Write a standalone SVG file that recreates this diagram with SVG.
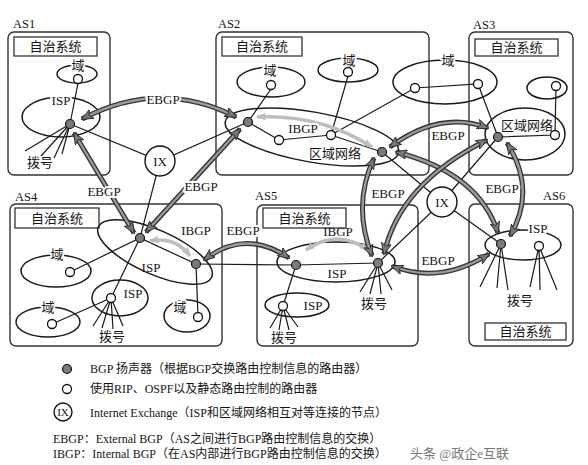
<svg xmlns="http://www.w3.org/2000/svg" width="588" height="465" viewBox="0 0 588 465">
<style>
text{font-family:"Liberation Serif","Noto Sans CJK SC",serif;fill:#151515}
.as{fill:none;stroke:#333;stroke-width:1.4}
.tb{fill:#fff;stroke:#333;stroke-width:1.3}
.tt{font-size:13px;text-anchor:middle}
.al{font-size:12.5px}
.el{fill:none;stroke:#1a1a1a;stroke-width:1.5}
.ln{stroke:#1a1a1a;stroke-width:1.2;fill:none}
.lb{font-size:13px;text-anchor:middle}
.h{stroke:#fff;stroke-width:4;paint-order:stroke;stroke-linejoin:round}
.sp{fill:#7a7a7a;stroke:#111;stroke-width:1.2}
.rt{fill:#fff;stroke:#111;stroke-width:1.3}
.ix{fill:#fff;stroke:#111;stroke-width:1.4}
.eo{fill:none;stroke:#333;stroke-width:5}
.ei{fill:none;stroke:#9a9a9a;stroke-width:2.4}
.ib{fill:none;stroke:#bdbdbd;stroke-width:3.5}
.lg{font-size:12px}
</style>
<defs>
<marker id="ah" viewBox="0 0 12 10" refX="11" refY="5" markerWidth="12" markerHeight="10" markerUnits="userSpaceOnUse" orient="auto-start-reverse"><path d="M0,0 L12,5 L0,10 L3,5 z" fill="#777" stroke="#222" stroke-width="0.8"/></marker>
<marker id="ahl" viewBox="0 0 10 8" refX="9" refY="4" markerWidth="10" markerHeight="8" markerUnits="userSpaceOnUse" orient="auto-start-reverse"><path d="M0,0 L10,4 L0,8 L2,4 z" fill="#bdbdbd"/></marker>
</defs>
<rect width="588" height="465" fill="#fff"/>

<g id="AS1">
<text class="al" x="13" y="28">AS1</text>
<rect class="as" x="8" y="32" width="102" height="143" rx="6"/>
<rect class="tb" x="14" y="37" width="83" height="19"/>
<text class="tt" x="55.5" y="51">自治系统</text>
<ellipse class="el" cx="77" cy="74" rx="20" ry="9"/>
<text class="lb h" x="78" y="70">域</text>
<ellipse class="el" cx="61" cy="117" rx="39" ry="20"/>
<text class="lb h" x="61" y="105">ISP</text>
<text class="lb" x="40" y="167">拨号</text>
</g>

<g id="AS2">
<text class="al" x="218" y="28">AS2</text>
<rect class="as" x="216" y="32" width="213" height="143" rx="6"/>
<rect class="tb" x="222" y="37" width="80" height="19"/>
<text class="tt" x="262" y="51">自治系统</text>
<ellipse class="el" cx="271" cy="82" rx="34" ry="15"/>
<text class="lb h" x="270" y="75">域</text>
<ellipse class="el" cx="348" cy="70" rx="30" ry="12"/>
<text class="lb h" x="349" y="65">域</text>
<ellipse class="el" cx="312" cy="137" rx="88" ry="25" transform="rotate(10 312 137)"/>
<text class="lb" x="335" y="158">区域网络</text>
</g>

<g id="AS3">
<text class="al" x="473" y="29">AS3</text>
<rect class="as" x="469" y="32" width="104" height="143" rx="6"/>
<rect class="tb" x="475" y="39" width="83" height="17"/>
<text class="tt" x="516.5" y="52">自治系统</text>
<ellipse class="el" cx="547" cy="88" rx="20" ry="11"/>
<ellipse class="el" cx="525" cy="134" rx="40" ry="26"/>
<text class="lb" x="527" y="130">区域网络</text>
</g>

<g id="shared-domain">
<ellipse class="el" cx="445" cy="82" rx="52" ry="22"/>
<text class="lb h" x="448" y="65">域</text>
</g>

<g id="AS4">
<text class="al" x="15" y="201">AS4</text>
<rect class="as" x="10" y="204" width="212" height="142" rx="6"/>
<rect class="tb" x="15" y="208" width="84" height="20"/>
<text class="tt" x="57" y="223">自治系统</text>
<ellipse class="el" cx="155" cy="252" rx="62" ry="22" transform="rotate(24 155 252)"/>
<text class="lb" x="151" y="272">ISP</text>
<text class="lb" x="196" y="235">IBGP</text>
<ellipse class="el" cx="56" cy="271" rx="35" ry="16"/>
<text class="lb h" x="57" y="259">域</text>
<ellipse class="el" cx="120" cy="298" rx="28" ry="18"/>
<text class="lb" x="133" y="298">ISP</text>
<ellipse class="el" cx="48" cy="322" rx="32" ry="15"/>
<text class="lb h" x="48" y="312">域</text>
<ellipse class="el" cx="187" cy="316" rx="23" ry="16"/>
<text class="lb h" x="180" y="312">域</text>
<text class="lb" x="112" y="341">拨号</text>
</g>

<g id="AS5">
<text class="al" x="255" y="200">AS5</text>
<rect class="as" x="257" y="205" width="161" height="141" rx="6"/>
<rect class="tb" x="263" y="208" width="83" height="20"/>
<text class="tt" x="304.5" y="223">自治系统</text>
<ellipse class="el" cx="336" cy="262" rx="59" ry="20"/>
<text class="lb" x="338" y="236">IBGP</text>
<text class="lb" x="337" y="278">ISP</text>
<ellipse class="el" cx="297" cy="305" rx="32" ry="12"/>
<text class="lb" x="313" y="310">ISP</text>
<text class="lb" x="284" y="342">拨号</text>
<text class="lb" x="374" y="308">拨号</text>
</g>

<g id="AS6">
<text class="al" x="543" y="200">AS6</text>
<rect class="as" x="469" y="204" width="104" height="142" rx="6"/>
<rect class="tb" x="485" y="323" width="81" height="17"/>
<text class="tt" x="525.5" y="336">自治系统</text>
<ellipse class="el" cx="523" cy="245" rx="38" ry="15"/>
<text class="lb h" x="538" y="233">ISP</text>
<text class="lb" x="520" y="305">拨号</text>
</g>

<g id="connectors">
<path class="ln" d="M78,83 L70,124 M70,124 L25,151 M70,124 L41,156 M70,124 L54,158 M70,124 L62,154"/>
<path class="ln" d="M70,124 L160,161 L248,122 M160,161 L140,238 L111,298"/>
<path class="ln" d="M271,89 L248,122 L279,140 L331,135 L382,152 M348,76 L331,135 M331,135 L415,88 L478,84 L498,137"/>
<path class="ln" d="M498,137 L555,135 L556,86"/>
<path class="ln" d="M382,152 L442,202 M498,137 L442,202 M378,263 L442,202 M501,244 L442,202"/>
<path class="ln" d="M70,272 L140,238 L196,264 L198,317 M52,324 L111,298 M111,298 L93,326 M111,298 L102,328 M111,298 L113,329 M111,298 L123,326"/>
<path class="ln" d="M196,264 L296,265 L378,263 M296,265 L283,306 M283,306 L270,328 M283,306 L279,330 M283,306 L289,330 M283,306 L298,327"/>
<path class="ln" d="M378,263 L360,292 M378,263 L370,294 M378,263 L381,294 M378,263 L392,290"/>
<path class="ln" d="M501,244 L480,287 M501,244 L497,288 M501,244 L508,290 M539,246 L530,287 M539,246 L540,290 M539,246 L557,290"/>

<g id="ibgp">
<path class="ib" d="M257,117 Q321,114 372,147" marker-start="url(#ahl)" marker-end="url(#ahl)"/>
<path class="ib" d="M150,241 Q175,236 190,256" marker-start="url(#ahl)" marker-end="url(#ahl)"/>
<path class="ib" d="M306,250 Q337,228 368,250" marker-start="url(#ahl)" marker-end="url(#ahl)"/>
</g>

<g id="ebgp">
<path class="eo" d="M82,119 Q160,78 236,117"/>
<path class="ei" d="M82,119 Q160,78 236,117" marker-start="url(#ah)" marker-end="url(#ah)"/>
<path class="eo" d="M74,133 L134,233"/>
<path class="ei" d="M74,133 L134,233" marker-start="url(#ah)" marker-end="url(#ah)"/>
<path class="eo" d="M240,129 L146,232"/>
<path class="ei" d="M240,129 L146,232" marker-start="url(#ah)" marker-end="url(#ah)"/>
<path class="eo" d="M204,260 Q245,228 289,258"/>
<path class="ei" d="M204,260 Q245,228 289,258" marker-start="url(#ah)" marker-end="url(#ah)"/>
<path class="eo" d="M374,158 Q352,205 372,256"/>
<path class="ei" d="M374,158 Q352,205 372,256" marker-start="url(#ah)" marker-end="url(#ah)"/>
<path class="eo" d="M390,147 Q440,110 488,128"/>
<path class="ei" d="M390,147 Q440,110 488,128" marker-start="url(#ah)" marker-end="url(#ah)"/>
<path class="eo" d="M396,152 Q479,173 498,233"/>
<path class="ei" d="M396,152 Q479,173 498,233" marker-start="url(#ah)" marker-end="url(#ah)"/>
<path class="eo" d="M487,140 Q400,183 384,254"/>
<path class="ei" d="M487,140 Q400,183 384,254" marker-start="url(#ah)" marker-end="url(#ah)"/>
<path class="eo" d="M507,143 Q537,190 510,236"/>
<path class="ei" d="M507,143 Q537,190 510,236" marker-start="url(#ah)" marker-end="url(#ah)"/>
<path class="eo" d="M392,266 Q440,285 489,254"/>
<path class="ei" d="M392,266 Q440,285 489,254" marker-start="url(#ah)" marker-end="url(#ah)"/>
</g>

<g id="ebgp-labels">
<text class="lb h" x="163" y="104">EBGP</text>
<text class="lb h" x="104" y="196">EBGP</text>
<text class="lb h" x="201" y="191">EBGP</text>
<text class="lb h" x="243" y="235">EBGP</text>
<text class="lb h" x="388" y="198">EBGP</text>
<text class="lb h" x="448" y="140">EBGP</text>
<text class="lb h" x="502" y="193">EBGP</text>
<text class="lb h" x="438" y="265">EBGP</text>
<text class="lb h" x="303" y="133">IBGP</text>
</g>
</g>

<g id="routers">
<g id="as1-speaker"><circle class="sp" cx="70" cy="124" r="4.5"/></g>
<g id="as1-domain-router"><circle class="rt" cx="78" cy="79" r="4.5"/></g>
<g id="as2-speaker1"><circle class="sp" cx="248" cy="122" r="4.5"/></g>
<g id="as2-speaker2"><circle class="sp" cx="382" cy="152" r="4.5"/></g>
<g id="as2-router1"><circle class="rt" cx="279" cy="140" r="4.5"/></g>
<g id="as2-router2"><circle class="rt" cx="331" cy="135" r="4.5"/></g>
<g id="as2-domain1"><circle class="rt" cx="271" cy="85" r="4.5"/></g>
<g id="as2-domain2"><circle class="rt" cx="348" cy="72" r="4.5"/></g>
<g id="shared-domain-r1"><circle class="rt" cx="415" cy="88" r="4.5"/></g>
<g id="shared-domain-r2"><circle class="rt" cx="478" cy="84" r="4.5"/></g>
<g id="as3-speaker"><circle class="sp" cx="498" cy="137" r="4.5"/></g>
<g id="as3-router1"><circle class="rt" cx="556" cy="86" r="4.5"/></g>
<g id="as3-router2"><circle class="rt" cx="555" cy="135" r="4.5"/></g>
<g id="as4-speaker1"><circle class="sp" cx="140" cy="238" r="4.5"/></g>
<g id="as4-speaker2"><circle class="sp" cx="196" cy="264" r="4.5"/></g>
<g id="as4-domain1"><circle class="rt" cx="70" cy="272" r="4.5"/></g>
<g id="as4-isp-router"><circle class="rt" cx="111" cy="298" r="4.5"/></g>
<g id="as4-domain2"><circle class="rt" cx="52" cy="324" r="4.5"/></g>
<g id="as4-domain3"><circle class="rt" cx="198" cy="317" r="4.5"/></g>
<g id="as5-speaker1"><circle class="sp" cx="296" cy="265" r="4.5"/></g>
<g id="as5-speaker2"><circle class="sp" cx="378" cy="263" r="4.5"/></g>
<g id="as5-isp-router"><circle class="rt" cx="283" cy="306" r="4.5"/></g>
<g id="as6-speaker"><circle class="sp" cx="501" cy="244" r="4.5"/></g>
<g id="as6-router"><circle class="rt" cx="539" cy="246" r="4.5"/></g>
<g id="IX1"><circle class="ix" cx="160" cy="161" r="15"/><text class="lb" x="160" y="166">IX</text></g>
<g id="IX2"><circle class="ix" cx="442" cy="202" r="15"/><text class="lb" x="442" y="207">IX</text></g>
</g>

<g id="legend">
<circle class="sp" cx="67" cy="369" r="4.5"/>
<text class="lg" x="90" y="373">BGP 扬声器（根据BGP交换路由控制信息的路由器）</text>
<circle class="rt" cx="67" cy="389" r="4.5"/>
<text class="lg" x="90" y="393">使用RIP、OSPF以及静态路由控制的路由器</text>
<circle class="ix" cx="63" cy="412" r="9"/>
<text x="63" y="416" style="font-size:11px;text-anchor:middle">IX</text>
<text class="lg" x="90" y="417">Internet Exchange（ISP和区域网络相互对等连接的节点）</text>
<text class="lg" x="53" y="443">EBGP：External BGP（AS之间进行BGP路由控制信息的交换）</text>
<text class="lg" x="53" y="458">IBGP：Internal BGP（在AS内部进行BGP路由控制信息的交换）</text>
<text x="410" y="458" style="font-size:13px;fill:#777">头条 @政企e互联</text>
</g>
</svg>
